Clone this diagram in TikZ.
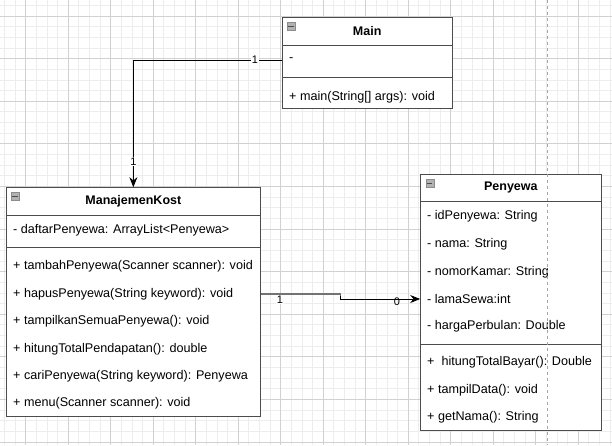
\documentclass[tikz,border=0pt]{standalone}
\usepackage{fontspec}
\setmainfont{Liberation Sans}
\usetikzlibrary{arrows.meta}

\begin{document}
\begin{tikzpicture}[x=1pt,y=-1pt,
		minorgrid/.style={black!7, line width=0.9pt},
		majorgrid/.style={black!18, line width=0.9pt},
		compart/.style={draw=black!70, line width=1pt, fill=white, inner sep=0pt},
		head/.style={font=\bfseries\fontsize{12.5}{14}\selectfont},
		row/.style={anchor=west, inner sep=0pt, font=\fontsize{12.6}{14}\selectfont},
		mult/.style={fill=white, inner sep=0.8pt, font=\fontsize{11}{13}\selectfont},
		icon/.style={draw=black!45, fill=black!30, minimum size=8pt, inner sep=0pt},
		conn/.style={line width=0.9pt, -{Stealth[length=10pt,width=8pt]}}]
		\useasboundingbox (0,0) rectangle (612,445);
		\fill[white] (0,0) rectangle (612,445);
		\foreach \i in {0,...,57} \draw[minorgrid] ({4.45+10.625*\i},0) -- ({4.45+10.625*\i},445);
		\foreach \j in {0,...,41} \draw[minorgrid] (0,{5.4+10.65*\j}) -- (612,{5.4+10.65*\j});
		\foreach \i in {0,...,13} \draw[majorgrid] ({25.7+42.5*\i},0) -- ({25.7+42.5*\i},445);
		\foreach \j in {0,...,10} \draw[majorgrid] (0,{16+42.6*\j}) -- (612,{16+42.6*\j});
		\node[compart, head, minimum width=170.3pt, minimum height=27.7pt] (mainH) at (367.15,31.15) {Main};
		\node[compart, minimum width=170.3pt, minimum height=32pt] (mainA) at (367.15,61) {};
		\node[compart, minimum width=170.3pt, minimum height=31.7pt] (mainM) at (367.15,92.85) {};
		\node[icon] (mainI) at ([xshift=9.5pt,yshift=-9pt]mainH.north west) {};
		\draw[black!70] ([xshift=1.5pt]mainI.west) -- ([xshift=-1.5pt]mainI.east);
		\node[row] (mainA1) at (289,60) {-};
		\node[row] (mainM1) at (289,97) {+ main(String[] args): void};
		\node[compart, head, minimum width=254.7pt, minimum height=28pt] (mkH) at (133.35,201.7) {ManajemenKost};
		\node[compart, minimum width=254.7pt, minimum height=32pt] (mkA) at (133.35,231.7) {};
		\node[compart, minimum width=254.7pt, minimum height=169pt] (mkM) at (133.35,332.2) {};
		\node[icon] (mkI) at ([xshift=9.5pt,yshift=-9pt]mkH.north west) {};
		\draw[black!70] ([xshift=1.5pt]mkI.west) -- ([xshift=-1.5pt]mkI.east);
		\node[row] (mkA1) at (13,230) {- daftarPenyewa: ArrayList<Penyewa>};
		\node[row] (mkR1) at (13,266.7) {+ tambahPenyewa(Scanner scanner): void};
		\node[row] (mkR2) at (13,294) {+ hapusPenyewa(String keyword): void};
		\node[row] (mkR3) at (13,321.7) {+ tampilkanSemuaPenyewa(): void};
		\node[row] (mkR4) at (13,349) {+ hitungTotalPendapatan(): double};
		\node[row] (mkR5) at (13,376.7) {+ cariPenyewa(String keyword): Penyewa};
		\node[row] (mkR6) at (13,403.3) {+ menu(Scanner scanner): void};
		\node[compart, head, minimum width=180.3pt, minimum height=26.7pt] (pyH) at (510.85,187.65) {Penyewa};
		\node[compart, minimum width=180.3pt, minimum height=143.3pt] (pyA) at (510.85,272.65) {};
		\node[compart, minimum width=180.3pt, minimum height=86.4pt] (pyM) at (510.85,387.5) {};
		\node[icon] (pyI) at ([xshift=9.5pt,yshift=-9pt]pyH.north west) {};
		\draw[black!70] ([xshift=1.5pt]pyI.west) -- ([xshift=-1.5pt]pyI.east);
		\node[row] (pyR1) at (427,216.7) {- idPenyewa: String};
		\node[row] (pyR2) at (427,244) {- nama: String};
		\node[row] (pyR3) at (427,272) {- nomorKamar: String};
		\node[row] (pyR4) at (427,299) {- lamaSewa:int};
		\node[row] (pyR5) at (427,326.7) {- hargaPerbulan: Double};
		\node[row] (pyM1) at (427,362.3) {+\ \ hitungTotalBayar(): Double};
		\node[row] (pyM2) at (427,390) {+ tampilData(): void};
		\node[row] (pyM3) at (427,417) {+ getNama(): String};
		\draw[conn] (mainA1 -| mainA.west) -| (mkH.north);
		\node[mult] (lm1) at (255,60) {1};
		\node[mult] (lm2) at (133.35,161.5) {1};
		\coordinate (bend) at (340.7,296);
		\draw[black!55, line width=1.2pt] (mkM.east |- mkR2) -| (bend);
		\draw[conn] (bend) |- (pyA.west |- pyR4);
		\node[mult] (lk1) at (280,299.5) {1};
		\node[mult, fill=none] (lk2) at (397,302) {0};
		\draw[black!35, line width=0.8pt, dash pattern=on 3pt off 3pt] (547.5,0) -- (547.5,445);
	\end{tikzpicture}
\end{document}
